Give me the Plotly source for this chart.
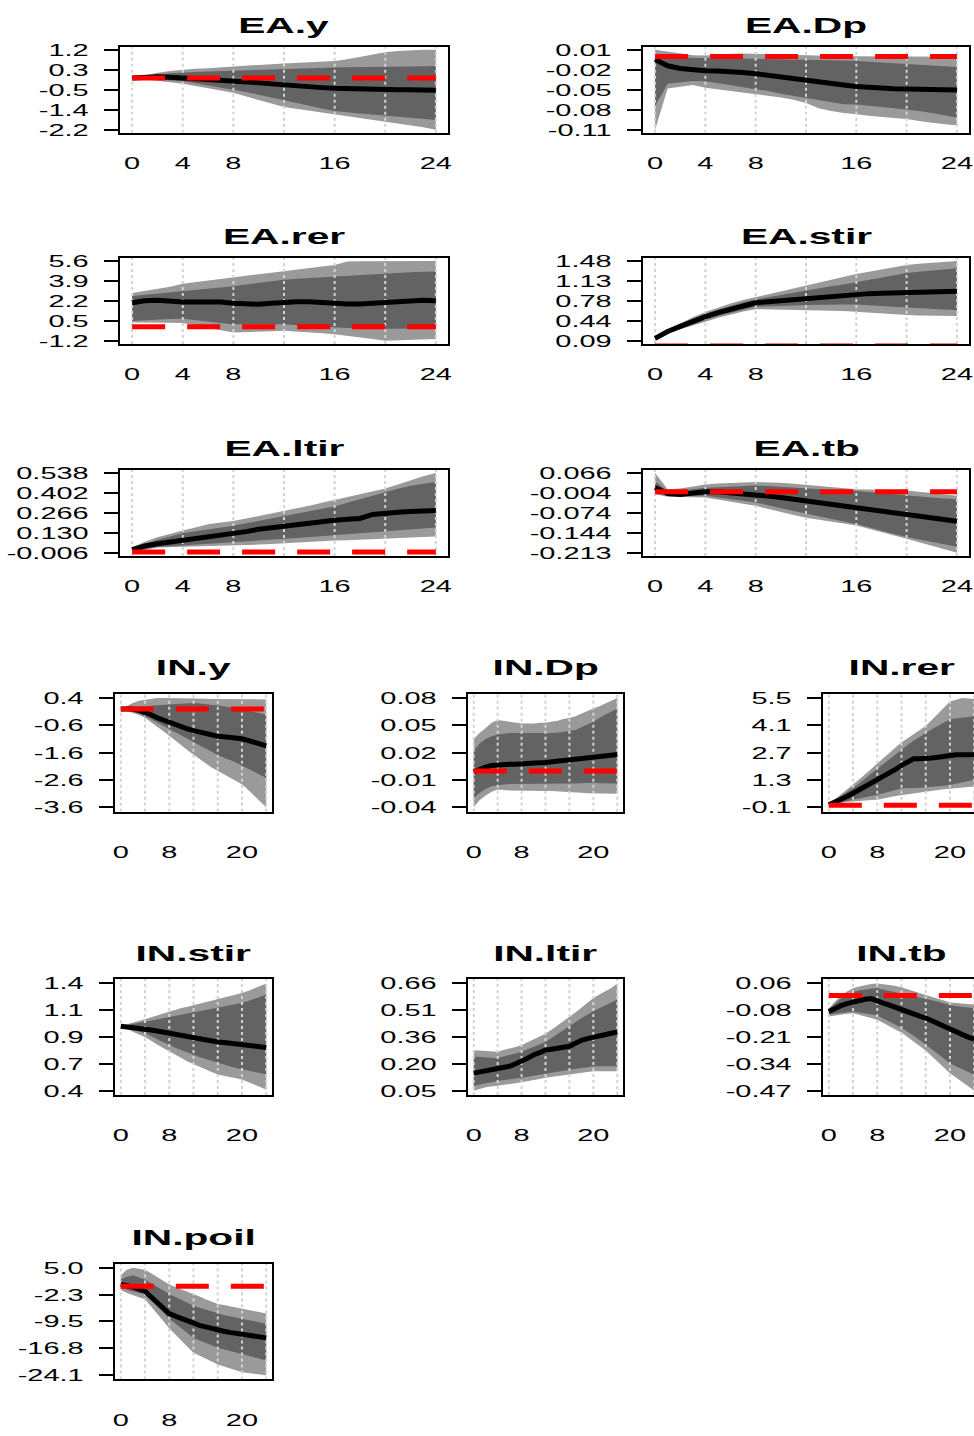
import numpy as np
import plotly.graph_objects as go

W, H = 974, 1436
horizon = list(range(25))
grid_x = [0, 4, 8, 12, 16, 20, 24]
EA_xticks = [0, 4, 8, 16, 24]
IN_xticks = [0, 8, 20]

# ---------------- EA.y ----------------
EA_y_med = [0, 0.03, 0.05, 0.03, 0.0, -0.02, -0.04, -0.07, -0.1, -0.15, -0.2, -0.25, -0.3, -0.34, -0.38, -0.41, -0.44, -0.46, -0.47, -0.48, -0.49, -0.5, -0.5, -0.51, -0.52]
EA_y_hi95 = [0, 0.12, 0.22, 0.3, 0.36, 0.39, 0.42, 0.46, 0.5, 0.53, 0.56, 0.59, 0.62, 0.64, 0.67, 0.69, 0.72, 0.8, 0.9, 1.0, 1.1, 1.15, 1.18, 1.2, 1.2]
EA_y_hi68 = [0, 0.08, 0.15, 0.2, 0.24, 0.26, 0.28, 0.3, 0.31, 0.33, 0.35, 0.37, 0.38, 0.4, 0.42, 0.44, 0.45, 0.46, 0.46, 0.47, 0.47, 0.48, 0.49, 0.5, 0.51]
EA_y_lo68 = [0, -0.03, -0.06, -0.1, -0.14, -0.22, -0.31, -0.41, -0.5, -0.6, -0.71, -0.81, -0.92, -1.05, -1.18, -1.3, -1.41, -1.46, -1.51, -1.56, -1.61, -1.66, -1.7, -1.75, -1.79]
EA_y_lo95 = [0, -0.06, -0.12, -0.18, -0.24, -0.33, -0.43, -0.53, -0.63, -0.78, -0.93, -1.09, -1.24, -1.32, -1.4, -1.47, -1.54, -1.62, -1.71, -1.8, -1.88, -1.95, -2.02, -2.1, -2.2]
EA_y_ticks = ["1.2", "0.3", "-0.5", "-1.4", "-2.2"]

# ---------------- EA.Dp ----------------
EA_Dp_med = [-0.0045, -0.014, -0.018, -0.02, -0.0215, -0.0218, -0.022, -0.024, -0.026, -0.0285, -0.031, -0.034, -0.037, -0.039, -0.041, -0.043, -0.045, -0.0465, -0.048, -0.0485, -0.049, -0.0495, -0.05, -0.05, -0.0505]
EA_Dp_hi95 = [0.01, 0.007, 0.005, 0.002, 0.0013, 0.003, 0.004, 0.0045, 0.004, 0.003, 0.002, 0.0015, 0.0013, 0.001, 0.0008, 0.0005, 0.0003, 0.0003, 0.0003, 0.0002, 0.0002, 0.0, -0.0002, -0.0004, -0.0006]
EA_Dp_hi68 = [-0.001, -0.0015, -0.0018, -0.002, -0.0021, -0.0025, -0.003, -0.0032, -0.0035, -0.0038, -0.004, -0.0043, -0.0045, -0.005, -0.0056, -0.0062, -0.0069, -0.008, -0.0092, -0.0105, -0.0118, -0.0128, -0.0138, -0.0148, -0.0157]
EA_Dp_lo68 = [-0.075, -0.041, -0.039, -0.037, -0.0374, -0.04, -0.043, -0.046, -0.049, -0.052, -0.056, -0.059, -0.0626, -0.066, -0.069, -0.072, -0.0723, -0.074, -0.076, -0.078, -0.0795, -0.082, -0.085, -0.088, -0.0916]
EA_Dp_lo95 = [-0.11, -0.048, -0.045, -0.043, -0.0471, -0.0495, -0.052, -0.0545, -0.0568, -0.059, -0.0615, -0.065, -0.0699, -0.078, -0.082, -0.085, -0.0868, -0.089, -0.091, -0.0925, -0.094, -0.097, -0.0995, -0.102, -0.1037]
EA_Dp_ticks = ["0.01", "-0.02", "-0.05", "-0.08", "-0.11"]

# ---------------- EA.rer ----------------
EA_rer_med = [2.03, 2.2, 2.25, 2.15, 2.1, 2.1, 2.14, 2.1, 2.0, 1.9, 1.9, 2.0, 2.1, 2.12, 2.12, 2.05, 1.95, 1.92, 1.92, 1.98, 2.1, 2.15, 2.2, 2.24, 2.2]
EA_rer_hi95 = [2.87, 3.05, 3.2, 3.4, 3.66, 3.8, 3.95, 4.08, 4.22, 4.34, 4.46, 4.58, 4.7, 4.84, 4.98, 5.12, 5.26, 5.55, 5.56, 5.57, 5.58, 5.58, 5.59, 5.6, 5.6]
EA_rer_hi68 = [2.6, 2.7, 2.8, 2.9, 3.0, 3.1, 3.2, 3.32, 3.44, 3.58, 3.72, 3.86, 4.0, 4.07, 4.14, 4.21, 4.28, 4.35, 4.42, 4.49, 4.56, 4.6, 4.64, 4.67, 4.7]
EA_rer_lo68 = [0.49, 0.55, 0.6, 0.65, 0.68, 0.55, 0.42, 0.3, 0.2, 0.2, 0.2, 0.2, 0.2, 0.13, 0.06, -0.01, -0.08, -0.12, -0.15, -0.18, -0.22, -0.2, -0.19, -0.17, -0.16]
EA_rer_lo95 = [0.35, 0.35, 0.34, 0.33, 0.32, 0.1, -0.1, -0.3, -0.5, -0.46, -0.42, -0.39, -0.36, -0.43, -0.5, -0.57, -0.64, -0.78, -0.92, -1.06, -1.2, -1.17, -1.13, -1.1, -1.06]
EA_rer_ticks = ["5.6", "3.9", "2.2", "0.5", "-1.2"]

# ---------------- EA.stir ----------------
EA_stir_med = [0.13, 0.25, 0.34, 0.43, 0.51, 0.58, 0.64, 0.7, 0.75, 0.77, 0.79, 0.81, 0.82, 0.845, 0.87, 0.89, 0.9, 0.91, 0.915, 0.92, 0.925, 0.93, 0.935, 0.94, 0.95]
EA_stir_hi95 = [0.15, 0.28, 0.39, 0.5, 0.59, 0.67, 0.74, 0.8, 0.85, 0.9, 0.95, 1.0, 1.06, 1.11, 1.16, 1.21, 1.25, 1.29, 1.33, 1.37, 1.41, 1.43, 1.45, 1.47, 1.48]
EA_stir_hi68 = [0.14, 0.26, 0.36, 0.46, 0.55, 0.63, 0.7, 0.76, 0.81, 0.85, 0.89, 0.93, 0.965, 1.0, 1.04, 1.07, 1.11, 1.15, 1.19, 1.23, 1.27, 1.29, 1.31, 1.33, 1.35]
EA_stir_lo68 = [0.11, 0.22, 0.3, 0.38, 0.45, 0.52, 0.58, 0.63, 0.68, 0.69, 0.7, 0.705, 0.71, 0.715, 0.72, 0.72, 0.72, 0.71, 0.695, 0.68, 0.66, 0.65, 0.64, 0.63, 0.62]
EA_stir_lo95 = [0.09, 0.21, 0.29, 0.36, 0.42, 0.49, 0.55, 0.6, 0.64, 0.635, 0.63, 0.625, 0.62, 0.615, 0.61, 0.607, 0.605, 0.59, 0.57, 0.55, 0.536, 0.53, 0.525, 0.52, 0.52]
EA_stir_ticks = ["1.48", "1.13", "0.78", "0.44", "0.09"]

# ---------------- EA.ltir ----------------
EA_ltir_med = [0.015, 0.04, 0.056, 0.068, 0.078, 0.092, 0.105, 0.113, 0.122, 0.138, 0.155, 0.166, 0.177, 0.19, 0.2, 0.208, 0.215, 0.222, 0.228, 0.255, 0.266, 0.27, 0.275, 0.279, 0.282]
EA_ltir_hi95 = [0.03, 0.07, 0.1, 0.125, 0.145, 0.167, 0.188, 0.2, 0.21, 0.227, 0.244, 0.26, 0.277, 0.296, 0.315, 0.335, 0.354, 0.373, 0.393, 0.412, 0.432, 0.46, 0.49, 0.515, 0.538]
EA_ltir_hi68 = [0.025, 0.055, 0.083, 0.105, 0.127, 0.14, 0.152, 0.165, 0.178, 0.195, 0.211, 0.228, 0.244, 0.26, 0.277, 0.293, 0.31, 0.335, 0.36, 0.385, 0.41, 0.43, 0.45, 0.465, 0.476]
EA_ltir_lo68 = [0.005, 0.02, 0.034, 0.04, 0.045, 0.05, 0.056, 0.062, 0.067, 0.072, 0.078, 0.083, 0.089, 0.094, 0.1, 0.105, 0.111, 0.118, 0.125, 0.133, 0.14, 0.147, 0.154, 0.16, 0.167]
EA_ltir_lo95 = [-0.006, 0.015, 0.03, 0.032, 0.034, 0.037, 0.04, 0.042, 0.045, 0.048, 0.05, 0.053, 0.056, 0.062, 0.067, 0.072, 0.078, 0.08, 0.083, 0.086, 0.089, 0.093, 0.097, 0.101, 0.105]
EA_ltir_ticks = ["0.538", "0.402", "0.266", "0.130", "-0.006"]

# ---------------- EA.tb ----------------
EA_tb_med = [0.014, -0.006, -0.009, -0.003, 0.0, 0.0, -0.003, -0.007, -0.011, -0.015, -0.02, -0.026, -0.032, -0.037, -0.043, -0.048, -0.052, -0.06, -0.068, -0.073, -0.078, -0.083, -0.088, -0.095, -0.103]
EA_tb_hi95 = [0.066, 0.009, 0.012, 0.02, 0.026, 0.029, 0.032, 0.033, 0.034, 0.034, 0.032, 0.028, 0.024, 0.02, 0.016, 0.012, 0.009, 0.008, 0.007, 0.006, 0.005, 0.0, -0.005, -0.01, -0.014]
EA_tb_hi68 = [0.037, 0.001, 0.005, 0.01, 0.014, 0.016, 0.018, 0.02, 0.022, 0.02, 0.017, 0.014, 0.012, 0.009, 0.006, 0.004, 0.003, -0.001, -0.005, -0.01, -0.014, -0.017, -0.02, -0.023, -0.026]
EA_tb_lo68 = [-0.003, -0.014, -0.014, -0.014, -0.014, -0.019, -0.025, -0.031, -0.037, -0.047, -0.057, -0.067, -0.077, -0.086, -0.095, -0.104, -0.112, -0.124, -0.135, -0.147, -0.158, -0.167, -0.175, -0.184, -0.192]
EA_tb_lo95 = [-0.008, -0.017, -0.018, -0.019, -0.02, -0.027, -0.034, -0.042, -0.049, -0.06, -0.07, -0.081, -0.091, -0.098, -0.105, -0.111, -0.118, -0.13, -0.141, -0.153, -0.164, -0.176, -0.188, -0.2, -0.213]
EA_tb_ticks = ["0.066", "-0.004", "-0.074", "-0.144", "-0.213"]

# ---------------- IN.y ----------------
IN_y_med = [0.0, 0.0, 0.0, -0.05, -0.11, -0.21, -0.32, -0.41, -0.5, -0.59, -0.67, -0.73, -0.79, -0.85, -0.91, -0.96, -1.0, -1.02, -1.03, -1.06, -1.09, -1.15, -1.21, -1.28, -1.35]
IN_y_hi95 = [0.0, 0.12, 0.22, 0.3, 0.34, 0.38, 0.4, 0.4, 0.4, 0.39, 0.38, 0.38, 0.38, 0.38, 0.38, 0.37, 0.37, 0.37, 0.37, 0.36, 0.36, 0.36, 0.35, 0.35, 0.35]
IN_y_hi68 = [0.0, 0.05, 0.08, 0.1, 0.1, 0.12, 0.14, 0.15, 0.16, 0.18, 0.2, 0.21, 0.22, 0.2, 0.18, 0.16, 0.14, 0.1, 0.06, 0.02, -0.02, -0.07, -0.11, -0.16, -0.2]
IN_y_lo68 = [0.0, -0.05, -0.1, -0.17, -0.26, -0.38, -0.5, -0.61, -0.73, -0.85, -0.97, -1.09, -1.21, -1.33, -1.45, -1.57, -1.69, -1.78, -1.87, -1.96, -2.05, -2.17, -2.29, -2.41, -2.53]
IN_y_lo95 = [0.0, -0.07, -0.14, -0.22, -0.32, -0.48, -0.65, -0.81, -0.97, -1.15, -1.33, -1.51, -1.69, -1.84, -1.99, -2.14, -2.29, -2.41, -2.53, -2.64, -2.76, -2.96, -3.16, -3.38, -3.6]
IN_y_ticks = ["0.4", "-0.6", "-1.6", "-2.6", "-3.6"]

# ---------------- IN.Dp ----------------
IN_Dp_med = [-0.001, 0.002, 0.004, 0.006, 0.0068, 0.007, 0.0072, 0.0074, 0.0075, 0.008, 0.0085, 0.009, 0.0093, 0.0099, 0.0105, 0.0112, 0.0118, 0.0125, 0.0132, 0.014, 0.0147, 0.0155, 0.0163, 0.0172, 0.018]
IN_Dp_hi95 = [0.035, 0.042, 0.047, 0.053, 0.056, 0.055, 0.054, 0.053, 0.052, 0.052, 0.052, 0.053, 0.053, 0.054, 0.055, 0.057, 0.058, 0.06, 0.063, 0.066, 0.0685, 0.071, 0.074, 0.077, 0.08]
IN_Dp_hi68 = [0.022, 0.03, 0.035, 0.038, 0.04, 0.041, 0.0415, 0.0416, 0.0416, 0.0414, 0.0412, 0.041, 0.041, 0.0415, 0.042, 0.0428, 0.0434, 0.045, 0.048, 0.051, 0.054, 0.058, 0.062, 0.065, 0.0685]
IN_Dp_lo68 = [-0.03, -0.024, -0.02, -0.017, -0.016, -0.015, -0.0145, -0.014, -0.014, -0.014, -0.014, -0.014, -0.014, -0.014, -0.014, -0.014, -0.014, -0.014, -0.0135, -0.0135, -0.013, -0.0135, -0.0135, -0.014, -0.014]
IN_Dp_lo95 = [-0.04, -0.032, -0.027, -0.023, -0.0205, -0.021, -0.0215, -0.022, -0.022, -0.022, -0.022, -0.022, -0.022, -0.022, -0.0225, -0.023, -0.023, -0.0235, -0.024, -0.0245, -0.025, -0.025, -0.025, -0.025, -0.025]
IN_Dp_ticks = ["0.08", "0.05", "0.02", "-0.01", "-0.04"]

# ---------------- IN.rer ----------------
IN_rer_med = [0.03, 0.16, 0.29, 0.45, 0.62, 0.79, 0.96, 1.13, 1.3, 1.47, 1.63, 1.84, 2.05, 2.22, 2.39, 2.39, 2.39, 2.43, 2.47, 2.53, 2.59, 2.59, 2.6, 2.6, 2.6]
IN_rer_hi95 = [0.05, 0.3, 0.55, 0.8, 1.04, 1.32, 1.6, 1.87, 2.14, 2.41, 2.68, 2.96, 3.23, 3.44, 3.65, 3.86, 4.07, 4.38, 4.7, 5.02, 5.33, 5.42, 5.5, 5.48, 5.45]
IN_rer_hi68 = [0.04, 0.25, 0.46, 0.66, 0.87, 1.12, 1.38, 1.63, 1.88, 2.13, 2.38, 2.64, 2.89, 3.1, 3.31, 3.52, 3.73, 3.9, 4.07, 4.24, 4.41, 4.45, 4.49, 4.53, 4.57]
IN_rer_lo68 = [0.0, 0.1, 0.18, 0.24, 0.29, 0.35, 0.42, 0.48, 0.54, 0.62, 0.7, 0.79, 0.87, 0.88, 0.89, 0.9, 0.91, 0.94, 0.97, 1.0, 1.04, 1.1, 1.17, 1.23, 1.3]
IN_rer_lo95 = [-0.1, 0.05, 0.12, 0.17, 0.2, 0.22, 0.25, 0.27, 0.29, 0.35, 0.42, 0.48, 0.54, 0.58, 0.63, 0.67, 0.71, 0.75, 0.79, 0.83, 0.87, 0.89, 0.91, 0.94, 0.96]
IN_rer_ticks = ["5.5", "4.1", "2.7", "1.3", "-0.1"]

# ---------------- IN.stir ----------------
IN_stir_med = [1.0, 0.995, 0.99, 0.983, 0.976, 0.966, 0.956, 0.946, 0.936, 0.923, 0.91, 0.897, 0.885, 0.877, 0.87, 0.862, 0.855, 0.85, 0.844, 0.839, 0.833, 0.826, 0.818, 0.81, 0.803]
IN_stir_hi95 = [1.0, 1.02, 1.035, 1.05, 1.067, 1.086, 1.105, 1.123, 1.142, 1.156, 1.17, 1.183, 1.197, 1.21, 1.224, 1.237, 1.25, 1.265, 1.28, 1.295, 1.31, 1.33, 1.35, 1.375, 1.4]
IN_stir_hi68 = [1.0, 1.01, 1.02, 1.03, 1.04, 1.052, 1.064, 1.076, 1.088, 1.098, 1.108, 1.117, 1.127, 1.139, 1.15, 1.162, 1.173, 1.184, 1.196, 1.207, 1.218, 1.237, 1.256, 1.275, 1.294]
IN_stir_lo68 = [1.0, 0.985, 0.97, 0.953, 0.936, 0.908, 0.88, 0.852, 0.824, 0.801, 0.778, 0.756, 0.733, 0.714, 0.695, 0.677, 0.658, 0.643, 0.628, 0.612, 0.597, 0.586, 0.575, 0.563, 0.552]
IN_stir_lo95 = [1.0, 0.975, 0.95, 0.925, 0.9, 0.866, 0.832, 0.798, 0.764, 0.734, 0.704, 0.673, 0.643, 0.62, 0.598, 0.575, 0.552, 0.54, 0.529, 0.517, 0.506, 0.482, 0.458, 0.434, 0.41]
IN_stir_ticks = ["1.4", "1.1", "0.9", "0.7", "0.4"]

# ---------------- IN.ltir ----------------
IN_ltir_med = [0.15, 0.156, 0.161, 0.166, 0.17, 0.18, 0.189, 0.203, 0.216, 0.235, 0.253, 0.267, 0.281, 0.286, 0.29, 0.297, 0.303, 0.32, 0.337, 0.346, 0.355, 0.362, 0.37, 0.377, 0.383]
IN_ltir_hi95 = [0.28, 0.278, 0.276, 0.274, 0.272, 0.281, 0.29, 0.3, 0.309, 0.325, 0.341, 0.358, 0.374, 0.397, 0.42, 0.443, 0.466, 0.494, 0.522, 0.55, 0.577, 0.597, 0.616, 0.634, 0.66]
IN_ltir_hi68 = [0.244, 0.242, 0.24, 0.237, 0.235, 0.244, 0.253, 0.263, 0.272, 0.286, 0.3, 0.313, 0.327, 0.35, 0.373, 0.397, 0.42, 0.441, 0.462, 0.482, 0.503, 0.519, 0.535, 0.552, 0.568]
IN_ltir_lo68 = [0.078, 0.085, 0.092, 0.099, 0.106, 0.11, 0.115, 0.12, 0.124, 0.129, 0.134, 0.138, 0.143, 0.15, 0.157, 0.163, 0.17, 0.175, 0.18, 0.184, 0.189, 0.189, 0.189, 0.189, 0.189]
IN_ltir_lo95 = [0.05, 0.06, 0.07, 0.076, 0.082, 0.085, 0.089, 0.092, 0.096, 0.103, 0.11, 0.117, 0.124, 0.129, 0.134, 0.138, 0.143, 0.147, 0.152, 0.156, 0.161, 0.161, 0.161, 0.161, 0.161]
IN_ltir_ticks = ["0.66", "0.51", "0.36", "0.20", "0.05"]

# ---------------- IN.tb ----------------
IN_tb_med = [-0.079, -0.063, -0.05, -0.04, -0.031, -0.024, -0.018, -0.015, -0.028, -0.037, -0.047, -0.059, -0.071, -0.082, -0.092, -0.102, -0.111, -0.125, -0.14, -0.153, -0.167, -0.18, -0.194, -0.205, -0.215]
IN_tb_hi95 = [-0.063, -0.03, 0.0, 0.02, 0.036, 0.045, 0.052, 0.057, 0.06, 0.057, 0.052, 0.047, 0.041, 0.031, 0.021, 0.011, 0.001, -0.008, -0.016, -0.025, -0.034, -0.037, -0.04, -0.042, -0.044]
IN_tb_hi68 = [-0.071, -0.04, -0.015, 0.003, 0.017, 0.025, 0.031, 0.034, 0.036, 0.029, 0.022, 0.015, 0.009, 0.003, -0.003, -0.009, -0.015, -0.023, -0.031, -0.039, -0.047, -0.051, -0.055, -0.059, -0.063]
IN_tb_lo68 = [-0.095, -0.09, -0.085, -0.082, -0.079, -0.083, -0.088, -0.093, -0.098, -0.114, -0.129, -0.144, -0.159, -0.179, -0.199, -0.219, -0.239, -0.263, -0.287, -0.311, -0.335, -0.349, -0.363, -0.377, -0.391]
IN_tb_lo95 = [-0.103, -0.098, -0.094, -0.09, -0.087, -0.095, -0.103, -0.111, -0.119, -0.135, -0.151, -0.167, -0.183, -0.205, -0.227, -0.249, -0.271, -0.299, -0.327, -0.355, -0.383, -0.404, -0.425, -0.447, -0.47]
IN_tb_ticks = ["0.06", "-0.08", "-0.21", "-0.34", "-0.47"]

# ---------------- IN.poil ----------------
IN_poil_med = [0.5, 0.3, -0.2, -0.8, -1.35, -2.9, -4.4, -5.9, -7.4, -8.1, -8.8, -9.4, -10.1, -10.6, -11.0, -11.5, -11.9, -12.2, -12.5, -12.8, -13.1, -13.3, -13.6, -13.8, -14.0]
IN_poil_hi95 = [3.0, 4.5, 5.0, 4.8, 4.5, 3.5, 2.5, 1.5, 0.5, -0.2, -0.8, -1.5, -2.1, -2.8, -3.5, -4.1, -4.8, -5.1, -5.4, -5.8, -6.1, -6.4, -6.8, -7.1, -7.4]
IN_poil_hi68 = [1.8, 2.6, 3.0, 2.5, 1.8, 0.8, -0.2, -1.1, -2.1, -2.9, -3.7, -4.5, -5.3, -5.8, -6.3, -6.9, -7.4, -7.8, -8.1, -8.5, -8.8, -9.1, -9.5, -9.8, -10.1]
IN_poil_lo68 = [-0.5, -1.0, -1.4, -1.8, -2.1, -3.8, -5.5, -7.1, -8.8, -10.1, -11.4, -12.7, -14.0, -14.7, -15.3, -16.0, -16.7, -17.1, -17.6, -18.0, -18.5, -18.9, -19.3, -19.7, -20.1]
IN_poil_lo95 = [-1.0, -1.8, -2.5, -3.0, -3.5, -5.5, -7.5, -9.4, -11.4, -13.1, -14.7, -16.4, -18.0, -18.8, -19.6, -20.4, -21.2, -21.7, -22.3, -22.8, -23.3, -23.5, -23.7, -23.9, -24.1]
IN_poil_ticks = ["5.0", "-2.3", "-9.5", "-16.8", "-24.1"]

# ---------------- layout of panels (pixel boxes) ----------------
EA_cols = [(120, 448), (643, 969)]
EA_rows = [(41, 128), (254, 341), (468, 555)]
IN_cols = [(115, 272), (468, 623), (823, 980)]
IN_rows = [(694, 813), (982, 1099), (1269, 1386)]

panels = [
    ("EA.y", EA_y_med, EA_y_lo95, EA_y_lo68, EA_y_hi68, EA_y_hi95, EA_y_ticks, EA_cols[0], EA_rows[0], "EA"),
    ("EA.Dp", EA_Dp_med, EA_Dp_lo95, EA_Dp_lo68, EA_Dp_hi68, EA_Dp_hi95, EA_Dp_ticks, EA_cols[1], EA_rows[0], "EA"),
    ("EA.rer", EA_rer_med, EA_rer_lo95, EA_rer_lo68, EA_rer_hi68, EA_rer_hi95, EA_rer_ticks, EA_cols[0], EA_rows[1], "EA"),
    ("EA.stir", EA_stir_med, EA_stir_lo95, EA_stir_lo68, EA_stir_hi68, EA_stir_hi95, EA_stir_ticks, EA_cols[1], EA_rows[1], "EA"),
    ("EA.ltir", EA_ltir_med, EA_ltir_lo95, EA_ltir_lo68, EA_ltir_hi68, EA_ltir_hi95, EA_ltir_ticks, EA_cols[0], EA_rows[2], "EA"),
    ("EA.tb", EA_tb_med, EA_tb_lo95, EA_tb_lo68, EA_tb_hi68, EA_tb_hi95, EA_tb_ticks, EA_cols[1], EA_rows[2], "EA"),
    ("IN.y", IN_y_med, IN_y_lo95, IN_y_lo68, IN_y_hi68, IN_y_hi95, IN_y_ticks, IN_cols[0], IN_rows[0], "IN"),
    ("IN.Dp", IN_Dp_med, IN_Dp_lo95, IN_Dp_lo68, IN_Dp_hi68, IN_Dp_hi95, IN_Dp_ticks, IN_cols[1], IN_rows[0], "IN"),
    ("IN.rer", IN_rer_med, IN_rer_lo95, IN_rer_lo68, IN_rer_hi68, IN_rer_hi95, IN_rer_ticks, IN_cols[2], IN_rows[0], "IN"),
    ("IN.stir", IN_stir_med, IN_stir_lo95, IN_stir_lo68, IN_stir_hi68, IN_stir_hi95, IN_stir_ticks, IN_cols[0], IN_rows[1], "IN"),
    ("IN.ltir", IN_ltir_med, IN_ltir_lo95, IN_ltir_lo68, IN_ltir_hi68, IN_ltir_hi95, IN_ltir_ticks, IN_cols[1], IN_rows[1], "IN"),
    ("IN.tb", IN_tb_med, IN_tb_lo95, IN_tb_lo68, IN_tb_hi68, IN_tb_hi95, IN_tb_ticks, IN_cols[2], IN_rows[1], "IN"),
    ("IN.poil", IN_poil_med, IN_poil_lo95, IN_poil_lo68, IN_poil_hi68, IN_poil_hi95, IN_poil_ticks, IN_cols[0], IN_rows[2], "IN"),
]

OUTER = "#9a9a9a"
INNER = "#636363"
TICKFONT = dict(family="Liberation Sans, Arial, sans-serif", size=17, color="#000000")
TITLEFONT = dict(family="Liberation Sans, Arial, sans-serif", size=22, color="#000000", weight="bold")

fig = go.Figure()
annotations = []
layout_axes = {}

for i, (name, med, lo95, lo68, hi68, hi95, yt, (x0, x1), (y0, y1), grp) in enumerate(panels, start=1):
    xa = "x" if i == 1 else f"x{i}"
    ya = "y" if i == 1 else f"y{i}"
    xlo, xhi = -0.96, 24.96
    ppu = (x1 - x0) / (xhi - xlo)
    clipped = x1 > W
    if clipped:
        xhi = xlo + (W - x0) / ppu
        x1d = 1.0
    else:
        x1d = x1 / W
    ytop, ybot = float(yt[0]), float(yt[-1])
    span = ytop - ybot
    yr = [ybot - 0.04 * span, ytop + 0.04 * span]
    tickvals = list(np.linspace(ytop, ybot, 5))

    fig.add_trace(go.Scatter(x=horizon + horizon[::-1], y=hi95 + lo95[::-1], fill="toself",
                             fillcolor=OUTER, line=dict(width=0), mode="lines",
                             xaxis=xa, yaxis=ya, showlegend=False, hoverinfo="skip"))
    fig.add_trace(go.Scatter(x=horizon + horizon[::-1], y=hi68 + lo68[::-1], fill="toself",
                             fillcolor=INNER, line=dict(width=0), mode="lines",
                             xaxis=xa, yaxis=ya, showlegend=False, hoverinfo="skip"))
    gx, gy = [], []
    for g in grid_x:
        gx += [g, g, None]
        gy += [yr[0], yr[1], None]
    fig.add_trace(go.Scatter(x=gx, y=gy, mode="lines",
                             line=dict(color="#d3d3d3", width=2, dash="dot"),
                             xaxis=xa, yaxis=ya, showlegend=False, hoverinfo="skip"))
    fig.add_trace(go.Scatter(x=horizon, y=med, mode="lines", line=dict(color="black", width=5),
                             xaxis=xa, yaxis=ya, showlegend=False))
    fig.add_trace(go.Scatter(x=horizon, y=[0] * len(horizon), mode="lines",
                             line=dict(color="#ff0000", width=5, dash="33px,22px"),
                             xaxis=xa, yaxis=ya, showlegend=False, hoverinfo="skip"))

    xt = EA_xticks if grp == "EA" else IN_xticks
    xlen = 14 if grp == "EA" else 24
    layout_axes["xaxis" if i == 1 else f"xaxis{i}"] = dict(
        domain=[x0 / W, x1d], range=[xlo, xhi], anchor=ya,
        showgrid=False, zeroline=False, showline=True, linecolor="black", linewidth=2,
        mirror=True, tickvals=xt, ticktext=[str(v) for v in xt], ticks="outside",
        ticklen=xlen, tickcolor="rgba(0,0,0,0)", tickfont=TICKFONT, fixedrange=True)
    layout_axes["yaxis" if i == 1 else f"yaxis{i}"] = dict(
        domain=[1 - y1 / H, 1 - y0 / H], range=yr, anchor=xa,
        showgrid=False, zeroline=False, showline=True, linecolor="black", linewidth=2,
        mirror=(not clipped), tickvals=tickvals, ticktext=yt, ticks="outside",
        ticklen=14, tickwidth=2, tickcolor="black", tickfont=TICKFONT,
        ticklabelstandoff=12, fixedrange=True)

    toff = 21 if grp == "EA" else 26
    cx = (x0 + x1) / 2 / W
    annotations.append(dict(text=name, x=cx, y=1 - (y0 - toff) / H, xref="paper", yref="paper",
                            xanchor="center", yanchor="middle", showarrow=False, font=TITLEFONT))

fig.update_layout(width=W, height=H, margin=dict(l=0, r=0, t=0, b=0),
                  paper_bgcolor="white", plot_bgcolor="white", showlegend=False,
                  annotations=annotations, **layout_axes)

# pin the figure to the page corner and widen the glyphs like the (horizontally stretched) original
POST = """
var gd = document.getElementById('{plot_id}');
var root = document.documentElement;
root.style.cssText = 'margin:0;padding:0;overflow:hidden;height:1436px;width:974px;';
document.body.style.cssText = 'margin:0;padding:0;overflow:hidden;height:1436px;width:974px;';
gd.style.position = 'absolute'; gd.style.left = '0px'; gd.style.top = '0px';
function stretch(sel, f) {
  gd.querySelectorAll(sel).forEach(function (t) {
    var w = t.getComputedTextLength();
    if (w > 0) { t.setAttribute('textLength', (w * f).toFixed(1)); t.setAttribute('lengthAdjust', 'spacingAndGlyphs'); }
  });
}
stretch('g[class$="tick"] > text', 1.7);
stretch('.annotation-text', 1.85);
"""

fig.write_html("out.html", post_script=POST, config={"displayModeBar": False})
